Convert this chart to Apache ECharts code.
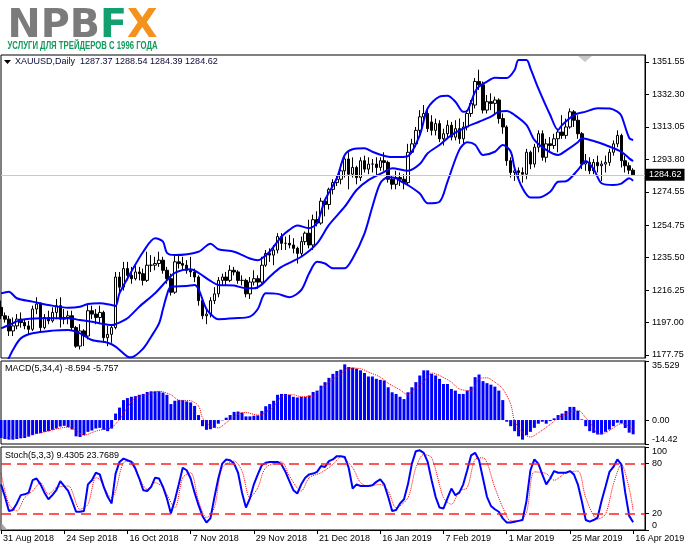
<!DOCTYPE html>
<html><head><meta charset="utf-8">
<script src="https://cdn.jsdelivr.net/npm/echarts/dist/echarts.min.js"></script>
<style>html,body{margin:0;padding:0;background:#fff}#c{width:691px;height:549px}</style>
</head><body><div id="c"></div><script>
// ---------- DATA ----------
const symbolName = 'XAUUSD,Daily';
const firstDay = '2018-08-31';
const holidays = ['2018-12-25', '2019-01-01'];

const opens = [
1206,1201,1199,1192,1195,1199,1197,1195,1193,1205,
1208,1194,1200,1198,1203,1207,1199,1200,1201,1194,
1183,1192,1189,1204,1202,1200,1203,1188,1190,1194,
1224,1218,1229,1225,1223,1227,1226,1222,1231,1231,
1232,1234,1228,1223,1215,1233,1232,1231,1228,1227,
1224,1210,1201,1202,1210,1214,1222,1224,1222,1228,
1227,1222,1222,1214,1221,1223,1221,1231,1238,1237,
1240,1248,1244,1244,1243,1241,1238,1245,1250,1243,
1258,1256,1269,1267,1276,1280,1282,1287,1294,1285,
1289,1283,1293,1288,1291,1291,1289,1293,1292,1282,
1279,1283,1282,1280,1298,1303,1311,1319,1321,1316,
1311,1315,1306,1309,1314,1307,1312,1306,1313,1321,
1326,1340,1338,1323,1328,1327,1329,1318,1313,1293,
1286,1287,1286,1285,1298,1291,1301,1309,1295,1303,
1302,1306,1310,1308,1313,1322,1317,1309,1291,1292,
1287,1292,1290,1291,1292,1298,1303,1308,1293,1290,
1287.37];
const highs = [
1210,1203,1201,1200,1202,1203,1199,1198,1207,1212,
1209,1202,1204,1206,1211,1212,1205,1204,1204,1195,
1196,1193,1208,1207,1205,1207,1204,1195,1196,1227,
1227,1233,1233,1230,1231,1230,1229,1239,1237,1236,
1239,1236,1230,1226,1237,1237,1236,1234,1236,1229,
1225,1211,1205,1212,1218,1224,1226,1227,1231,1230,
1228,1225,1223,1224,1228,1225,1236,1240,1241,1243,
1250,1250,1248,1249,1247,1242,1248,1251,1258,1261,
1263,1271,1270,1277,1282,1284,1291,1295,1298,1295,
1290,1295,1296,1295,1294,1295,1295,1298,1293,1284,
1287,1286,1285,1303,1306,1313,1323,1326,1323,1320,
1318,1317,1312,1317,1316,1317,1318,1316,1323,1329,
1342,1347,1340,1332,1333,1331,1330,1321,1314,1295,
1290,1289,1289,1300,1299,1303,1311,1311,1306,1307,
1309,1312,1320,1318,1324,1323,1320,1310,1297,1295,
1294,1296,1293,1296,1300,1305,1311,1309,1296,1292,
1288.54];
const lows = [
1199,1197,1189,1189,1193,1194,1193,1190,1192,1202,
1191,1193,1196,1197,1199,1194,1196,1196,1192,1182,
1181,1183,1187,1199,1196,1196,1185,1183,1185,1193,
1214,1216,1222,1220,1222,1222,1219,1221,1227,1228,
1230,1226,1220,1213,1214,1229,1228,1226,1224,1221,
1207,1199,1196,1200,1208,1212,1219,1219,1221,1225,
1220,1219,1212,1211,1219,1217,1220,1230,1233,1231,
1238,1240,1240,1241,1238,1232,1236,1243,1241,1240,
1254,1255,1260,1264,1273,1278,1279,1283,1276,1283,
1279,1281,1286,1285,1286,1284,1287,1287,1280,1276,
1276,1278,1276,1279,1297,1301,1308,1317,1310,1308,
1308,1304,1302,1306,1305,1305,1303,1303,1311,1319,
1324,1335,1321,1321,1323,1320,1315,1309,1290,1283,
1281,1282,1280,1282,1288,1289,1298,1293,1292,1298,
1300,1298,1306,1306,1312,1313,1306,1288,1287,1285,
1285,1286,1281,1286,1290,1296,1301,1289,1286,1285,
1284.39];
const closes = [
1201,1199,1192,1195,1199,1197,1195,1193,1205,1208,
1194,1200,1198,1203,1207,1199,1200,1201,1194,1183,
1192,1189,1204,1202,1200,1203,1188,1190,1194,1224,
1218,1229,1225,1223,1227,1226,1222,1231,1231,1232,
1234,1228,1223,1215,1233,1232,1231,1228,1227,1224,
1210,1201,1202,1210,1214,1222,1224,1222,1228,1227,
1222,1222,1214,1221,1223,1221,1231,1238,1237,1240,
1248,1244,1244,1243,1241,1238,1245,1250,1243,1258,
1256,1269,1267,1276,1280,1282,1287,1294,1285,1289,
1283,1293,1288,1291,1291,1289,1293,1292,1282,1279,
1283,1282,1280,1298,1303,1311,1319,1321,1312,1311,
1315,1306,1309,1314,1307,1312,1306,1313,1321,1327,
1340,1338,1323,1328,1327,1329,1318,1313,1293,1286,
1287,1286,1285,1298,1291,1301,1309,1295,1303,1302,
1306,1310,1308,1313,1322,1317,1309,1291,1292,1287,
1292,1290,1291,1292,1298,1303,1308,1293,1290,1287.4,
1284.62];

// Bollinger Bands (20,2): [bar index, value]
const bbUpper = [[0,1214.3],[2,1215.3],[4,1211.4],[8,1209.4],[12,1207.4],[17,1205.8],[20,1206.4],[22,1208],[25,1208.4],[28,1207.4],[29,1206.8],[30,1214.4],[33,1227.2],[36,1239],[39,1247],[41,1245],[42,1238.3],[44,1237],[50,1239],[53,1243.8],[55,1240.5],[59,1239],[63,1235],[65,1234],[66,1235],[68,1239],[71,1248],[73,1252],[75,1254.5],[78,1253],[80,1256],[82,1269.7],[85,1282.6],[87,1296.4],[89,1299.8],[92,1300.4],[94,1298.3],[98,1295.4],[101,1295.2],[103,1295.7],[106,1308.2],[108,1324.1],[111,1331],[113,1331.5],[115,1328],[117,1322],[118,1322.5],[120,1334],[121,1337],[123,1339.9],[125,1342.2],[128,1342],[130,1346.8],[131,1352.7],[133,1352.7],[134,1347.8],[136,1335.9],[139,1320.1],[141,1311.2],[142,1314.1],[145,1320.1],[148,1322.1],[151,1324.1],[154,1324],[156,1322.1],[157,1319.7],[159,1306.5],[160,1305.3]];
const bbMiddle = [[0,1193.5],[2,1195.5],[5,1198.5],[10,1199.5],[17,1199.5],[20,1198.5],[23,1197.5],[25,1196.5],[28,1195.5],[29,1196],[32,1199.5],[35,1206.4],[39,1214.4],[42,1222],[44,1226.5],[48,1228.6],[50,1226.5],[53,1221.7],[55,1219.3],[59,1218.9],[62,1217.3],[64,1217.3],[66,1219.5],[68,1224.2],[71,1230],[76,1236],[80,1243.9],[83,1254.9],[87,1265.7],[90,1275.6],[93,1281.5],[97,1286.4],[99,1288.5],[103,1287],[106,1291],[108,1297.4],[111,1302.3],[114,1308.2],[118,1313.2],[121,1316.1],[124,1319.1],[126,1322.1],[128,1322.5],[130,1320.1],[133,1314.2],[135,1305.3],[138,1299.4],[141,1296.4],[143,1299],[146,1303.9],[147,1306.3],[150,1304.7],[153,1302.3],[157,1298.3],[159,1294.4],[160,1292.8]];
const bbLower = [[0,1168],[2,1176],[3,1180.7],[5,1187.6],[8,1190.6],[13,1192.2],[17,1192.6],[20,1190.6],[23,1186.6],[27,1185],[29,1182.7],[32,1176.8],[33,1176.4],[36,1181.6],[38,1188.6],[40,1196.5],[41,1205],[42,1213.4],[43,1218.3],[47,1218.7],[49,1219.3],[50,1216.8],[52,1205],[54,1200],[55,1199],[59,1199.5],[63,1200.5],[65,1205],[67,1214.3],[70,1214],[73,1212],[76,1216.3],[78,1226.2],[80,1233],[82,1232],[84,1229.2],[87,1229.2],[89,1235],[92,1249.8],[94,1265.7],[96,1279.6],[98,1283.2],[100,1282.6],[101,1281],[103,1278.5],[106,1273.5],[108,1267.7],[111,1268.7],[113,1280.5],[116,1299.4],[118,1303.9],[120,1302.5],[122,1296.4],[125,1298.3],[127,1302.3],[129,1298.5],[130,1288.5],[132,1276.6],[134,1271.1],[136,1271.1],[139,1274.6],[141,1280.5],[143,1280.8],[146,1287.5],[148,1292.8],[150,1288],[152,1279.6],[155,1278.6],[157,1279.4],[159,1282.6],[160,1281.1]];

// MACD(5,34,4)
const macdMain = [
-10.8,-11.4,-11.8,-11.8,-11.4,-11.0,-10.8,-10.0,-9.1,-8.3,
-7.9,-7.1,-6.7,-5.9,-5.1,-3.9,-3.5,-4.3,-5.7,-9.8,
-10.2,-9.1,-7.1,-6.3,-5.1,-4.7,-5.9,-6.7,-5.1,3.9,
7.5,12.0,13.2,14.0,14.4,15.2,15.7,16.9,17.3,17.3,
17.3,16.5,15.2,9.6,11.6,12.0,12.0,11.2,10.6,8.5,
3.0,-3.7,-5.9,-5.5,-4.7,-2.2,-0.2,1.4,3.0,4.9,
5.1,4.5,2.2,2.2,2.6,2.8,5.5,8.3,9.6,11.6,
15.2,15.7,15.7,15.2,14.0,13.6,14.0,14.0,14.8,16.9,
17.7,20.7,22.8,25.4,27.8,29.5,30.3,33.5,31.9,31.5,
30.9,29.9,28.3,26.2,26.2,24.8,24.2,23.8,19.7,16.7,
15.7,14.0,12.6,16.7,19.7,22.8,26.8,29.9,29.9,27.8,
26.8,24.8,21.7,21.7,18.7,17.7,15.7,15.7,17.7,20.1,
25.8,27.4,23.4,22.2,21.3,20.1,17.7,12.0,-1.0,-3.7,
-6.7,-9.8,-11.8,-9.1,-7.1,-4.7,-2.2,-1.0,-2.2,-0.6,
1.0,3.0,3.9,5.5,7.9,7.9,5.5,0.4,-3.7,-6.7,
-7.7,-8.7,-8.7,-7.1,-5.7,-3.7,-1.6,-2.0,-4.8,-7.6,
-8.594];
const macdSignal = [[0,-10.8],[5,-9.8],[10,-7.7],[17,-4.3],[19,-6.3],[21,-9.1],[24,-6.7],[27,-5.1],[28,-4.7],[30,0.4],[32,7.5],[34,13.6],[37,15.2],[40,17.3],[43,15.2],[45,12.0],[48,11.6],[50,8.5],[51,1.4],[53,-3.7],[55,-4.7],[57,-1.6],[60,3.5],[62,4.5],[65,3.0],[66,3.5],[69,7.9],[71,14.0],[74,15.2],[76,14.0],[79,14.6],[81,18.7],[83,22.8],[86,27.8],[88,31.3],[91,30.9],[93,28.9],[96,25.8],[98,22.2],[101,18.1],[103,15.2],[104,17.7],[107,22.8],[109,28.3],[111,26.8],[114,22.8],[116,18.7],[119,17.7],[121,24.8],[123,25.4],[125,22.8],[127,18.7],[129,9.6],[130,-0.6],[132,-7.7],[134,-10.2],[136,-7.7],[139,-2.6],[141,1.4],[144,4.5],[146,5.9],[148,1.4],[150,-4.7],[151,-8.3],[153,-7.7],[155,-4.7],[157,-2.2],[159,-3.7],[160,-5.757]];

// Stochastic(5,3,3)
const stochK = [
55,40,23,24,32,42,43,45,60,62,
55,45,37,42,48,59,53,47,35,22,
22,23,55,60,69,67,52,40,32,68,
82,86,84,82,74,62,48,47,52,63,
62,52,38,20,36,55,75,72,62,45,
30,17,9,14,39,62,80,85,84,80,
69,45,27,38,55,67,78,81,82,82,
82,79,70,59,48,44,55,63,67,68,
70,77,76,83,85,89,89,88,75,50,
55,53,53,53,54,58,61,55,40,23,
24,32,37,55,80,95,96,93,82,60,
40,27,26,38,50,42,45,55,72,90,
93,84,62,40,29,25,22,14,9,9,
10,11,12,35,72,85,80,67,55,62,
71,69,69,69,71,67,55,35,12,10,
12,15,35,52,70,76,85,79,45,17,
9.4305];
const stochD = [[0,69],[2,31],[4,23],[6,39],[8,47],[10,57],[12,43],[14,51],[17,53],[20,25],[22,31],[24,63],[25,61],[28,39],[29,47],[31,81],[33,83],[35,63],[37,49],[39,57],[41,51],[44,27],[46,63],[48,69],[50,35],[52,15],[54,27],[56,75],[59,83],[61,71],[63,39],[65,51],[67,75],[71,82],[73,65],[76,47],[78,63],[81,69],[84,79],[86,88],[89,75],[91,57],[93,53],[96,55],[98,47],[100,27],[103,39],[105,75],[107,91],[109,87],[112,39],[114,31],[116,47],[118,51],[120,85],[122,87],[125,51],[127,27],[129,11],[131,11],[133,21],[135,70],[138,68],[140,60],[143,69],[146,71],[148,39],[151,13],[153,19],[155,55],[157,79],[159,50],[160,23.7689]];

const priceTicks = [1351.55,1332.30,1313.05,1293.80,1274.55,1254.75,1235.50,1216.25,1197.00,1177.75];
const macdTicks = [35.529, 0, -14.42];
const stochTicks = [100, 80, 20, 0];
const stochLevels = [80, 20];
const labelStep = 16;

// ---------- BUILD ----------
const months = ['Jan','Feb','Mar','Apr','May','Jun','Jul','Aug','Sep','Oct','Nov','Dec'];
function tradingDays(startISO, n, skip) {
  const out = []; const d = new Date(startISO + 'T00:00:00Z');
  while (out.length < n) {
    const wd = d.getUTCDay(); const iso = d.toISOString().slice(0, 10);
    if (wd !== 0 && wd !== 6 && skip.indexOf(iso) < 0)
      out.push(d.getUTCDate() + ' ' + months[d.getUTCMonth()] + ' ' + d.getUTCFullYear());
    d.setUTCDate(d.getUTCDate() + 1);
  }
  return out;
}
const N = closes.length;
const dates = tradingDays(firstDay, N, holidays);
const cats = dates.concat(['', '', '']);
const candles = closes.map((c, i) => [opens[i], c, lows[i], highs[i]]);
const last = N - 1;
const f2 = v => v.toFixed(2);
const headerText = symbolName + '  ' + f2(opens[last]) + ' ' + f2(highs[last]) + ' ' + f2(lows[last]) + ' ' + f2(closes[last]);
const macdText = 'MACD(5,34,4) ' + macdMain[last].toFixed(3) + ' ' + macdSignal[macdSignal.length - 1][1].toFixed(3);
const stochText = 'Stoch(5,3,3) ' + stochK[last].toFixed(4) + ' ' + stochD[stochD.length - 1][1].toFixed(4);

function measure(text, font) { const c = document.createElement('canvas').getContext('2d'); c.font = font; return c.measureText(text).width; }
// logo pieces
const logoFont = 'bold 44px "DejaVu Sans"';
const logoParts = [['NPB', '#7b7b7b'], ['F', '#13a06f'], ['X', '#f5921e']];
const logoTotal = measure('NPBFX', logoFont);
const logoSX = 150 / logoTotal;
const logoSY = 0.89;
let lx = 7.5;
const logoEls = logoParts.map(p => {
  const el = { type: 'text', x: lx, y: 26.5, scaleX: logoSX, scaleY: logoSY,
    style: { text: p[0], font: logoFont, fill: p[1], verticalAlign: 'middle', align: 'left' } };
  lx += measure(p[0], logoFont) * logoSX;
  return el;
});
const subText = 'УСЛУГИ ДЛЯ ТРЕЙДЕРОВ С 1996 ГОДА';
const subFont = 'bold 10px "Liberation Sans"';
const subScale = 150 / measure(subText, subFont);

const FONT = '"Liberation Sans", Arial, sans-serif';
const gridL = 1, gridR = 46;
const grids = [
  { left: gridL, right: gridR, top: 55, height: 303 },
  { left: gridL, right: gridR, top: 361, height: 83 },
  { left: gridL, right: gridR, top: 447, height: 83 }
].map(g => Object.assign(g, { show: true, borderColor: '#000', borderWidth: 1, backgroundColor: '#fff' }));

const showLabel = (idx, val) => idx % labelStep === 0 && idx < N;
function xAx(i, show) {
  return {
    gridIndex: i, type: 'category', data: cats, boundaryGap: false, show: show,
    axisLine: { show: show, onZero: false, lineStyle: { color: '#000' } },
    axisTick: { show: show, interval: showLabel, length: 4, lineStyle: { color: '#000' } },
    axisLabel: { show: show, interval: showLabel, align: 'left', margin: 4, fontSize: 9, color: '#000', fontFamily: FONT, padding: [0, 0, 0, 2] },
    splitLine: { show: false }
  };
}
function yAx(i, min, max, ticks, fmt) {
  return {
    gridIndex: i, type: 'value', position: 'right', min: min, max: max,
    splitLine: { show: false },
    axisLine: { show: true, onZero: false, lineStyle: { color: '#000' } },
    axisTick: { show: true, length: 4, customValues: ticks, lineStyle: { color: '#000' } },
    axisLabel: { customValues: ticks, formatter: fmt, fontSize: 9, color: '#000', fontFamily: FONT, margin: 7,
      verticalAlignMaxLabel: i === 0 ? 'middle' : 'bottom', verticalAlignMinLabel: i === 0 ? 'middle' : 'top' }
  };
}
const blue = '#0000ff', red = '#ff0000';
const lineS = (data, xi, color, width, type, z) => ({
  type: 'line', xAxisIndex: xi, yAxisIndex: xi, data: data, symbol: 'none', smooth: 0.3, z: z,
  lineStyle: { color: color, width: width, type: type }, silent: true
});

const option = {
  animation: false,
  backgroundColor: '#fff',
  textStyle: { fontFamily: FONT },
  grid: grids,
  xAxis: [xAx(0, false), xAx(1, false), xAx(2, true)],
  yAxis: [
    yAx(0, 1175.96, 1355.70, priceTicks, v => v.toFixed(2)),
    yAx(1, -14.42, 35.529, macdTicks, v => v === 0 ? '0.00' : String(v)),
    yAx(2, 0, 100, stochTicks, v => String(v))
  ],
  series: [
    { type: 'line', xAxisIndex: 0, yAxisIndex: 0, data: [[last, closes[last]]], symbol: 'none', z: 1, silent: true,
      markLine: { silent: true, symbol: ['none', 'none'], animation: false,
        lineStyle: { color: '#c8c8c8', type: 'solid', width: 1 },
        label: { show: true, position: 'end', distance: 1, formatter: f2(closes[last]), color: '#fff', backgroundColor: '#000',
          padding: [2, 3, 1, 3], fontSize: 9, fontFamily: FONT },
        data: [{ yAxis: closes[last] }] } },
    { type: 'candlestick', xAxisIndex: 0, yAxisIndex: 0, data: candles, barWidth: 3, z: 3, clip: true, silent: true,
      itemStyle: { color: '#ffffff', color0: '#000000', borderColor: '#000000', borderColor0: '#000000', borderWidth: 1 } },
    lineS(bbUpper, 0, blue, 2, 'solid', 4),
    lineS(bbMiddle, 0, blue, 2, 'solid', 4),
    lineS(bbLower, 0, blue, 2, 'solid', 4),
    { type: 'bar', xAxisIndex: 1, yAxisIndex: 1, data: macdMain, barWidth: 3, silent: true, itemStyle: { color: blue } },
    lineS(macdSignal, 1, red, 1, 'dotted', 4),
    Object.assign(lineS(stochK.map((v, i) => [i, v]), 2, blue, 2, 'solid', 4), { smooth: false,
      markLine: { silent: true, symbol: ['none', 'none'], label: { show: false },
        lineStyle: { color: '#ff2020', type: [10, 6], width: 1.5 },
        data: stochLevels.map(v => ({ yAxis: v })) } }),
    lineS(stochD, 2, red, 1, 'dotted', 3)
  ],
  graphic: logoEls.concat([
    { type: 'text', x: 7.5, y: 41.5, scaleX: subScale, style: { text: subText, font: subFont, fill: '#109a5c', verticalAlign: 'top' } },
    { type: 'polygon', shape: { points: [[4, 60], [11, 60], [7.5, 64]] }, style: { fill: '#000' } },
    { type: 'text', x: 15, y: 57, style: { text: headerText, font: '9px ' + FONT, fill: '#0a0a3a', verticalAlign: 'top' } },
    { type: 'text', x: 5, y: 364, style: { text: macdText, font: '9px ' + FONT, fill: '#000', verticalAlign: 'top' } },
    { type: 'text', x: 5, y: 451, style: { text: stochText, font: '9px ' + FONT, fill: '#000', verticalAlign: 'top' } },
    { type: 'polygon', shape: { points: [[578, 56], [592, 56], [585, 62]] }, style: { fill: '#c8c8c8' } },
    { type: 'polygon', shape: { points: [[1.5, 523], [1.5, 529.5], [7, 529.5]] }, style: { fill: '#a8a8a8' } }
  ])
};
const chart = echarts.init(document.getElementById('c'), null, { renderer: 'canvas' });
chart.setOption(option);
</script></body></html>
